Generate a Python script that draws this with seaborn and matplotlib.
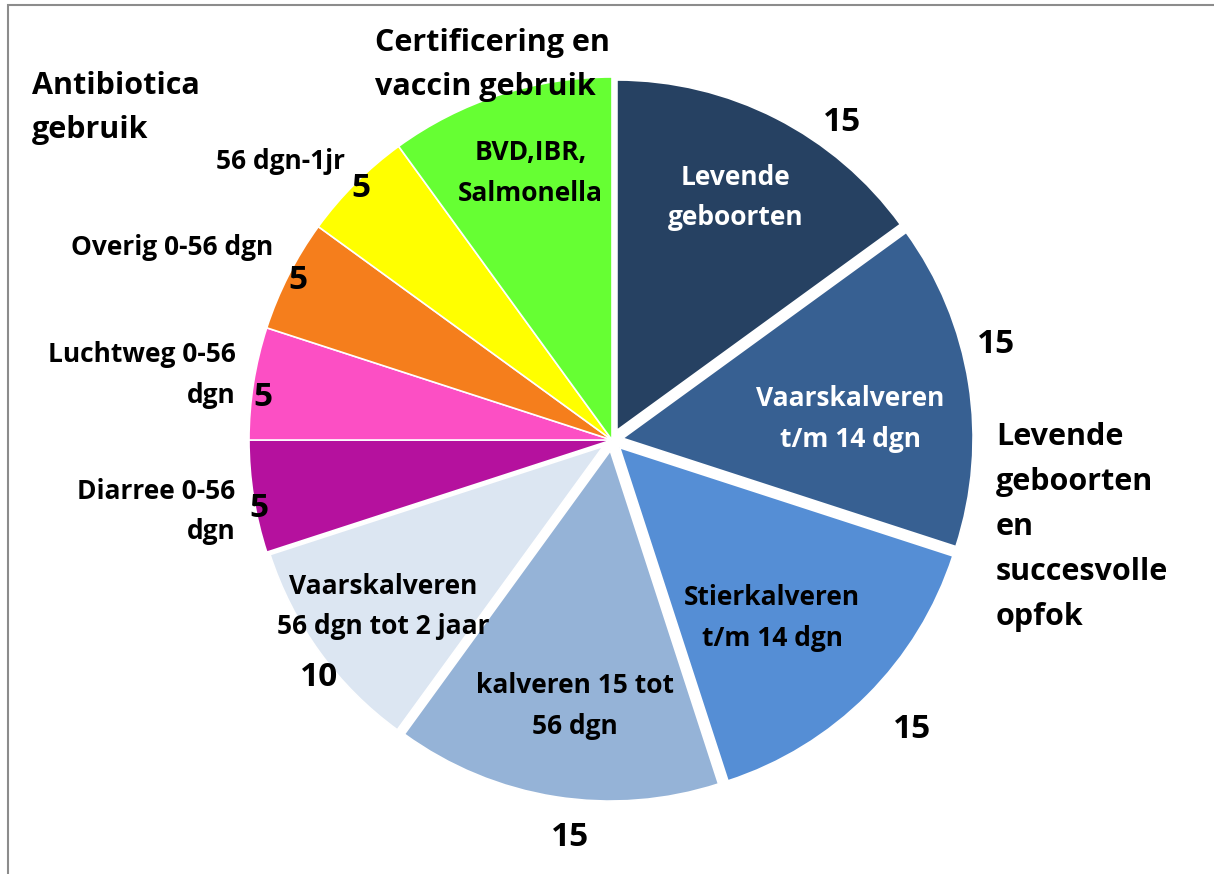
import numpy as np
import matplotlib.pyplot as plt
import seaborn as sns
from matplotlib.patches import Rectangle

# slice data, clockwise from the top
inner_labels = ['Levende\ngeboorten', 'Vaarskalveren\nt/m 14 dgn',
                'Stierkalveren\nt/m 14 dgn', 'kalveren 15 tot\n56 dgn',
                'Vaarskalveren\n56 dgn tot 2 jaar', '', '', '', '',
                'BVD,IBR,\nSalmonella']
outer_labels = ['', '', '', '', '', 'Diarree 0-56\ndgn', 'Luchtweg 0-56\ndgn',
                'Overig 0-56 dgn', '56 dgn-1jr', '']
values = [15, 15, 15, 15, 10, 5, 5, 5, 5, 10]
show_value = [True] * 9 + [False]
colors = ['#264162', '#376092', '#558ED5', '#95B3D7', '#DCE6F2',
          '#B5119E', '#FC4FC4', '#F57E1C', '#FFFF00', '#66FF33']
explode = [0.03, 0.03, 0.03, 0.03, 0.03, 0, 0, 0, 0, 0]
inner_color = ['white', 'white', 'black', 'black', 'black',
               'black', 'black', 'black', 'black', 'black']

group_labels = ['Certificering en\nvaccin gebruik', 'Antibiotica\ngebruik',
                'Levende\ngeboorten\nen\nsuccesvolle\nopfok']

sns.set_theme(style='white')
plt.rcParams['font.family'] = ['Open Sans', 'DejaVu Sans']
plt.rcParams['font.weight'] = 'bold'
plt.rcParams['text.color'] = 'black'

W, H = 1214, 874
fig = plt.figure(figsize=(W / 100, H / 100), dpi=100)

# pie centre and radius in pixels
cx, cy, R = 612, 440, 363
half = 400
ax = fig.add_axes([(cx - half) / W, (H - cy - half) / H, 2 * half / W, 2 * half / H])
wedges, _ = ax.pie(values, colors=colors, startangle=90, counterclock=False,
                   explode=explode, radius=1,
                   wedgeprops=dict(edgecolor='white', linewidth=1.2))
# exploded slices are drawn a bit smaller, as in the original
for w, e in zip(wedges, explode):
    if e > 0:
        w.set_radius(0.965)
L = half / R
ax.set_xlim(-L, L)
ax.set_ylim(-L, L)
ax.set_aspect('equal')
ax.axis('off')

# bisector angles of each slice
total = sum(values)
cum = np.cumsum([0] + values[:-1])
mids = 90 - (cum + np.array(values) / 2) / total * 360

# label placement tweaks (radius, angle shift in degrees)
in_r = [0.75, 0.66, 0.66, 0.74, 0.78, 0, 0, 0, 0, 0.77]
in_da = [0, -4, -3, 1, 0, 0, 0, 0, 0, -1]
val_r = [1.08, 1.09, 1.15, 1.10, 1.04, 0.99, 0.97, 0.97, 0.98, 0]
val_da = [-9, 5, 1, 3, 3, 2, 2, 0, 0, 0]
out_dy = [0, 0, 0, 0, 0, -0.03, 0.012, 0.045, 0.01, 0]

for i, (v, a) in enumerate(zip(values, mids)):
    if inner_labels[i]:
        t = np.deg2rad(a + in_da[i])
        ax.text(in_r[i] * np.cos(t), in_r[i] * np.sin(t), inner_labels[i],
                ha='center', va='center', fontsize=19, fontweight='bold',
                color=inner_color[i], linespacing=1.65)
    if show_value[i]:
        t = np.deg2rad(a + val_da[i])
        ax.text(val_r[i] * np.cos(t), val_r[i] * np.sin(t), str(v),
                ha='center', va='center', fontsize=24, fontweight='bold',
                color='black')
    if outer_labels[i]:
        t = np.deg2rad(a)
        r_out = 1.07
        ax.text(r_out * np.cos(t) + 0.02, r_out * np.sin(t) + out_dy[i],
                outer_labels[i], ha='right', va='center', fontsize=19,
                fontweight='bold', color='black', linespacing=1.65)

# group titles
fig.text(375 / W, 1 - 65 / H, group_labels[0], ha='left', va='center',
         fontsize=22, fontweight='bold', linespacing=1.65)
fig.text(32 / W, 1 - 108 / H, group_labels[1], ha='left', va='center',
         fontsize=22, fontweight='bold', linespacing=1.65)
fig.text(996 / W, 1 - 527 / H, group_labels[2], ha='left', va='center',
         fontsize=22, fontweight='bold', linespacing=1.65)

# outer frame
fig.patches.append(Rectangle((8 / W, -0.1), 1.2, 1.1 - 5 / H, transform=fig.transFigure,
                             fill=False, edgecolor='#8c8c8c', linewidth=1.5))

fig.savefig('out.png', dpi=100)
